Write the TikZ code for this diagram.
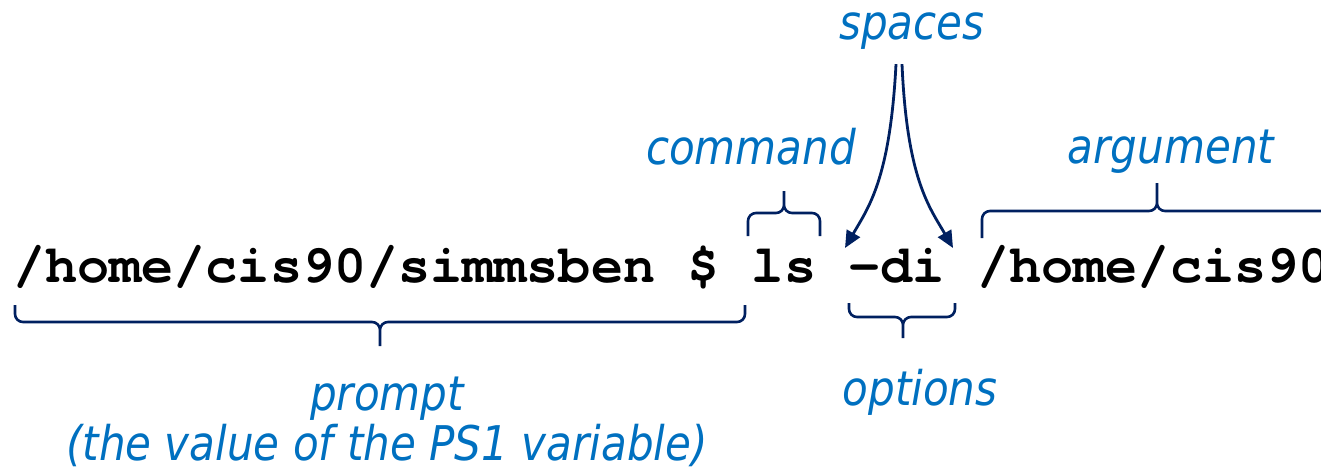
\documentclass[tikz,border=0pt]{standalone}
\usepackage{fontspec}
\setmonofont{TeX Gyre Cursor}
\newfontfamily\lblfont[FakeStretch=0.88]{DejaVu Sans}
\usetikzlibrary{positioning,arrows.meta}
\definecolor{lblblue}{RGB}{0,112,192}
\definecolor{navy}{RGB}{0,32,96}
\newlength{\chw}\setlength{\chw}{32.1pt}
\tikzset{
  cmdtext/.style={inner sep=0pt, anchor=base west, font=\fontsize{53.5}{60}\selectfont\ttfamily\bfseries},
  lbl/.style={inner sep=0pt, anchor=base, text=lblblue, font=\fontsize{47.8}{57}\selectfont\lblfont\itshape},
  brc/.style={navy, line width=2.6pt, rounded corners=8pt},
  spc/.style={navy, line width=2.8pt, -{Triangle[length=17pt,width=15pt]}}
}
\begin{document}
\begin{tikzpicture}[x=1pt,y=-1pt]
\clip[use as bounding box] (0,0) rectangle (1321,469);
% command line
\node[cmdtext] (prompt) at (13,282) {/home/cis90/simmsben \$};
\node[cmdtext] (ls) at ([xshift=\chw]prompt.base east) {ls};
\node[cmdtext] (opts) at ([xshift=\chw]ls.base east) {-di};
\node[cmdtext] (arg) at ([xshift=\chw]opts.base east) {/home/cis90/simmsben};
% labels
\node[lbl] (spaces) at (912,39) {spaces};
\node[lbl] (cmdlbl) at (751,164) {command};
\node[lbl] (arglbl) at (1171,163) {argument};
\node[lbl] (optlbl) at (920,405) {options};
\node[lbl] (plbl) at (387,410) {prompt};
\node[lbl] (psone) at ([yshift=-50pt]plbl.base) {(the value of the PS1 variable)};
% braces
\draw[brc] (748,236) |- (784,213) -- (784,191) (820,236) |- (784,213) -- (784,191);
\draw[brc] (982,238) |- (1157,211) -- (1157,183) (1340,238) |- (1157,211) -- (1157,183);
\draw[brc] (15,305) |- (380,322) -- (380,346) (745,305) |- (380,322) -- (380,346);
\draw[brc] (849,303) |- (903,317) -- (903,338) (955,303) |- (903,317) -- (903,338);
% spaces arrows
\coordinate (gap1) at (845,248);
\coordinate (gap2) at (953,248);
\draw[spc] ([xshift=-16pt,yshift=-15pt]spaces.south) .. controls (890,180) and (868,208) .. (gap1);
\draw[spc] ([xshift=-10pt,yshift=-15pt]spaces.south) .. controls (907,180) and (930,208) .. (gap2);
\end{tikzpicture}
\end{document}
